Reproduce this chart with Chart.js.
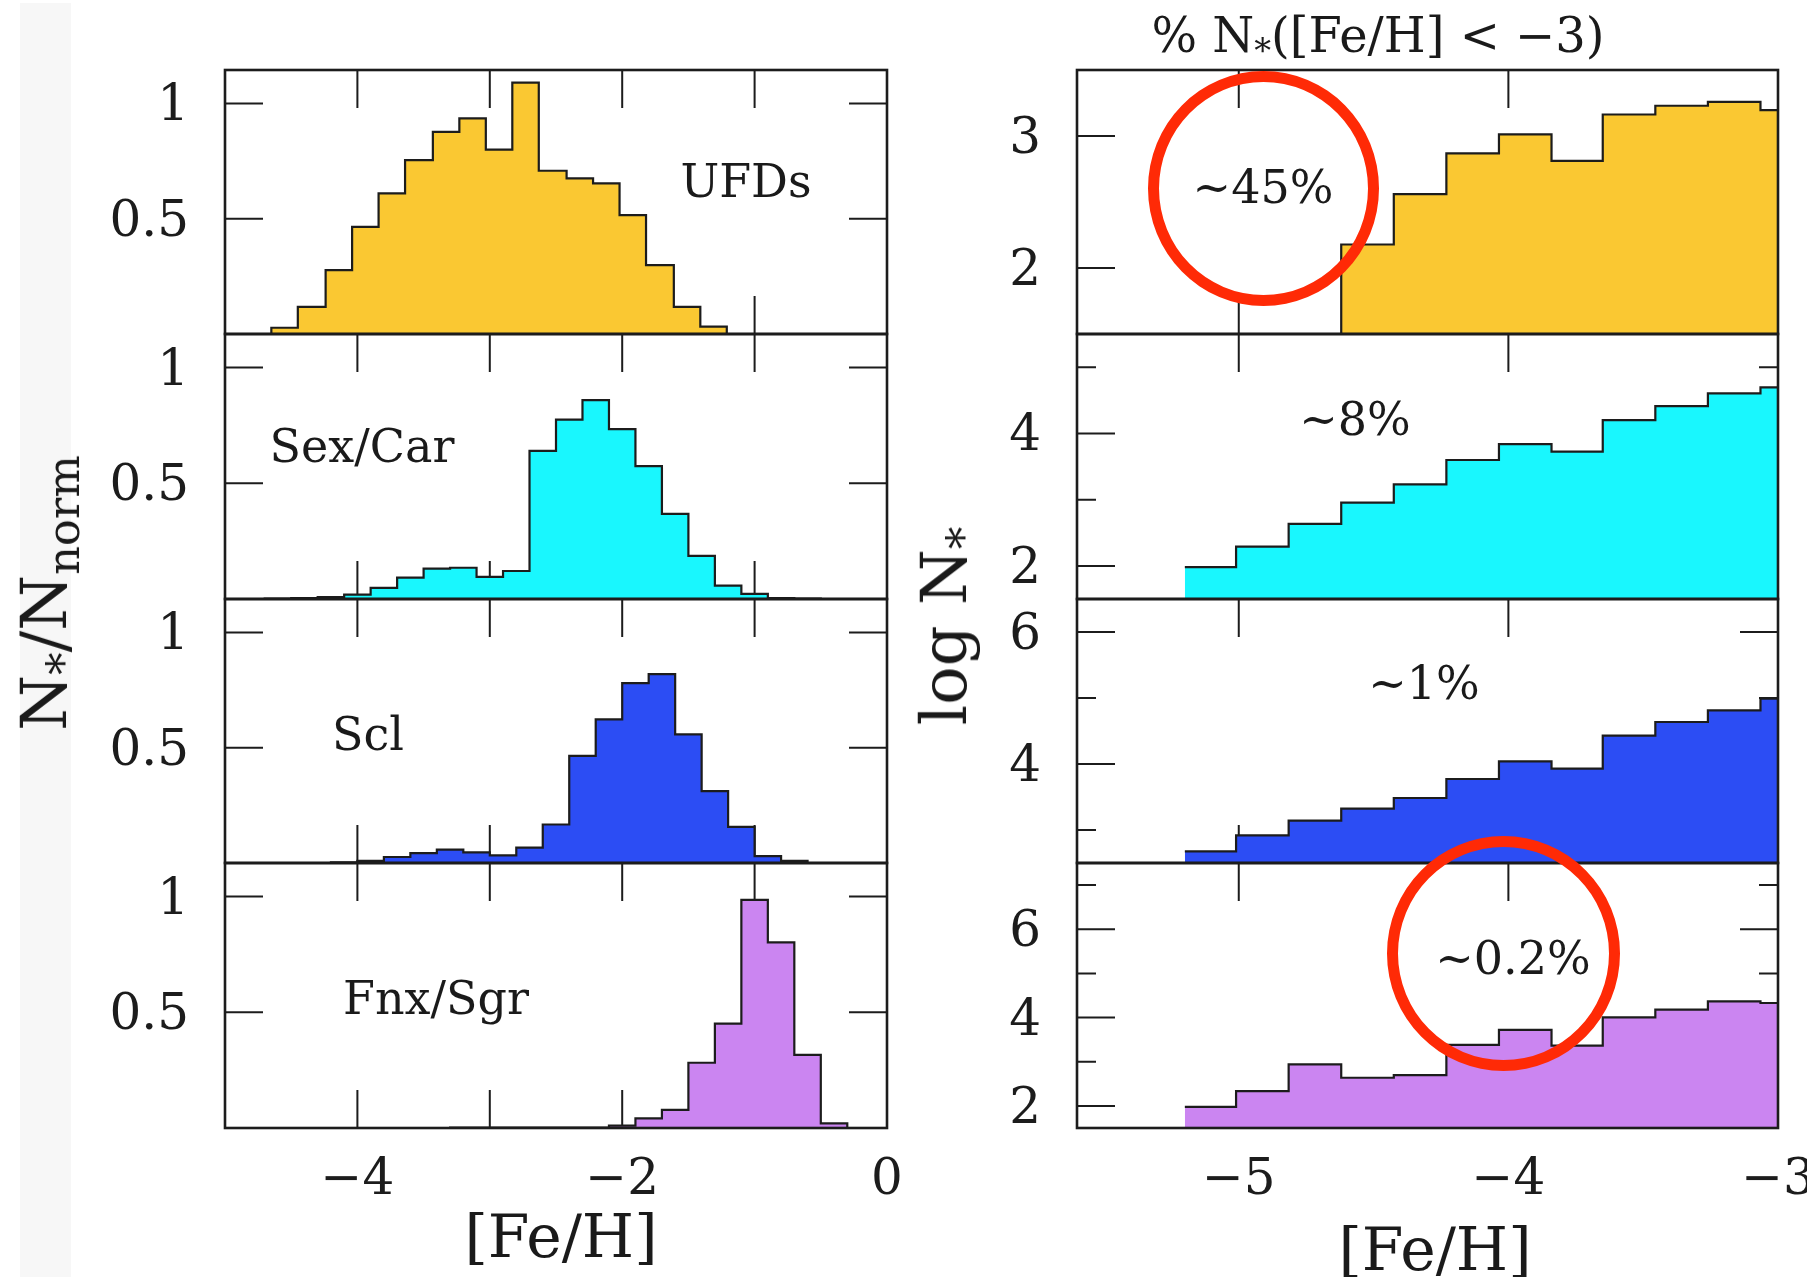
<!DOCTYPE html>
<html>
<head>
<meta charset="utf-8">
<title>MDF panels</title>
<script src="https://cdn.jsdelivr.net/npm/chart.js@4.4.1/dist/chart.umd.min.js"></script>
<style>
  body { margin: 0; background: #fff; }
  #page { position: relative; width: 1807px; height: 1277px; overflow: hidden;
          font-family: "DejaVu Serif", serif; color: #1a1a1a; background: #fff; }
  #page canvas { position: absolute; }
  .strip { position: absolute; left: 20px; top: 3px; width: 51px; height: 1274px; background: #f7f7f7; }
  .txt { position: absolute; white-space: nowrap; line-height: 1; transform: translate(-50%, -50%); }
  .rot { transform: translate(-50%, -50%) rotate(-90deg); }
  .sb { font-size: 0.7em; position: relative; top: 0.3em; }
  .ring { position: absolute; border: 11px solid #ff2a06; border-radius: 50%; box-sizing: border-box; }
</style>
</head>
<body>
<div id="page">
  <div class="strip"></div>
  <div id="charts"></div>

  <!-- panel names (left) -->
  <div class="txt" style="left:746px; top:181px; font-size:46px;">UFDs</div>
  <div class="txt" style="left:362px; top:446px; font-size:46px;">Sex/Car</div>
  <div class="txt" style="left:368px; top:734px; font-size:46px;">Scl</div>
  <div class="txt" style="left:436px; top:998px; font-size:46px;">Fnx/Sgr</div>

  <!-- fraction below [Fe/H] = -3 (right) -->
  <div class="txt" style="left:1263px; top:187px; font-size:46px;">~45%</div>
  <div class="txt" style="left:1355px; top:419px; font-size:46px;">~8%</div>
  <div class="txt" style="left:1424px; top:683px; font-size:46px;">~1%</div>
  <div class="txt" style="left:1513px; top:958px; font-size:46px;">~0.2%</div>

  <!-- axis titles -->
  <div class="txt" style="left:1378px; top:35px; font-size:48px;">% N<span class="sb">*</span>([Fe/H] &lt; &#8722;3)</div>
  <div class="txt" style="left:561px; top:1236px; font-size:60px;">[Fe/H]</div>
  <div class="txt" style="left:1435px; top:1249px; font-size:60px;">[Fe/H]</div>
  <div class="txt rot" style="left:44px; top:593px; font-size:64px;">N<span class="sb">*</span>/N<span class="sb">norm</span></div>
  <div class="txt rot" style="left:944px; top:626px; font-size:64px;">log N<span class="sb">*</span></div>

  <!-- hand drawn highlight rings -->
  <div class="ring" style="left:1148px; top:71px; width:231px; height:235px;"></div>
  <div class="ring" style="left:1387px; top:836px; width:233px; height:235px;"></div>
</div>

<script>
// ---------- left column: N*/Nnorm per [Fe/H] bin ----------
var ufdEdges = [-4.65, -4.45, -4.24, -4.04, -3.84, -3.64, -3.43, -3.23, -3.03, -2.83,
                -2.63, -2.42, -2.22, -2.02, -1.82, -1.61, -1.41, -1.21];
var ufdFrac = [0.027, 0.118, 0.277, 0.465, 0.610, 0.754, 0.877, 0.935, 0.800, 1.09,
               0.708, 0.675, 0.653, 0.516, 0.299, 0.118, 0.032];

var sexCarEdges = [-4.7, -4.5, -4.3, -4.1, -3.9, -3.7, -3.5, -3.3, -3.1, -2.9, -2.7,
                   -2.5, -2.3, -2.1, -1.9, -1.7, -1.5, -1.3, -1.1, -0.9, -0.7, -0.5];
var sexCarFrac = [0.002, 0.004, 0.008, 0.019, 0.048, 0.092, 0.131, 0.135, 0.096, 0.121,
                  0.640, 0.775, 0.859, 0.734, 0.574, 0.368, 0.186, 0.058, 0.022, 0.004, 0.002];

var sclEdges = [-4.2, -4.0, -3.8, -3.6, -3.4, -3.2, -3.0, -2.8, -2.6, -2.4,
                -2.2, -2.0, -1.8, -1.6, -1.4, -1.2, -1.0, -0.8, -0.6];
var sclFrac = [0.003, 0.009, 0.026, 0.043, 0.058, 0.046, 0.033, 0.067, 0.167,
               0.465, 0.623, 0.780, 0.819, 0.558, 0.312, 0.157, 0.030, 0.009];

var fnxEdges = [-3.3, -3.1, -2.9, -2.7, -2.5, -2.3, -2.1, -1.9, -1.7, -1.5,
                -1.3, -1.1, -0.9, -0.7, -0.5, -0.3];
var fnxFrac = [0.002, 0.002, 0.002, 0.002, 0.002, 0.002, 0.010, 0.042, 0.078,
               0.282, 0.451, 0.986, 0.802, 0.316, 0.020];

// ---------- right column: log N* of the metal-poor tail ----------
var tailEdges = [-5.2, -5.01, -4.815, -4.62, -4.425, -4.23, -4.035, -3.84,
                 -3.65, -3.455, -3.26, -3.065, -3.0];
var ufdLogN    = [0, 0, 0, 2.178, 2.560, 2.869, 3.013, 2.812, 3.163, 3.229, 3.259, 3.196];
var sexCarLogN = [1.980, 2.291, 2.633, 2.955, 3.231, 3.598, 3.839, 3.724, 4.201, 4.412, 4.603, 4.693];
var sclLogN    = [2.677, 2.919, 3.141, 3.323, 3.485, 3.773, 4.040, 3.929, 4.429, 4.636, 4.813, 4.990];
var fnxLogN    = [1.977, 2.334, 2.941, 2.638, 2.698, 3.381, 3.723, 3.366, 4.004, 4.178, 4.368, 4.330];

// ---------- ticks ----------
var leftXTicks = [-4, -3, -2, -1];
var leftXLabels = [-4, -2, 0];
var rightXTicks = [-5, -4];
var rightXLabels = [-5, -4, -3];
var leftYTicks = [0.5, 1];
var rightYRange = [[1.5, 3.5], [1.5, 5.5], [2.5, 6.5], [1.5, 7.5]];
var rightYLabels = [[2, 3], [2, 4], [4, 6], [2, 4, 6]];
var rightYMinor = [[], [3, 5], [3, 5], [3, 5, 7]];

var colors = ['#fac832', '#19f7fe', '#2c4df4', '#cb85f1'];

// layout of the panel grid (pixels)
var rows = [70, 334, 599, 863, 1128];
var leftCol = [225, 887];
var rightCol = [1077, 1778];
var PAD_L = 200, PAD_R = 40, PAD_T = 4, PAD_B = 110;
var INK = '#1c1c1c';
var tickFont = { family: 'DejaVu Serif', size: 50 };

function fmt(v) {
    return String(v).replace('-', '\u2212');
}

// outline of a histogram as a stepped line
function stepPoints(edges, vals, base, closeRight) {
    var pts = [];
    if (base !== null) pts.push({ x: edges[0], y: base });
    for (var i = 0; i < vals.length; i++) {
        pts.push({ x: edges[i], y: vals[i] });
    }
    pts.push({ x: edges[edges.length - 1], y: closeRight ? base : vals[vals.length - 1] });
    return pts;
}

// inward ticks on all four sides + frame
var frameTicks = {
    id: 'frameTicks',
    beforeDatasetsDraw: function (chart, args, o) {
        var a = chart.chartArea, sx = chart.scales.x, sy = chart.scales.y, ctx = chart.ctx;
        ctx.save();
        ctx.strokeStyle = INK;
        ctx.lineWidth = 2;
        ctx.beginPath();
        function vtick(v, len) {
            var px = sx.getPixelForValue(v);
            ctx.moveTo(px, a.bottom); ctx.lineTo(px, a.bottom - len);
            ctx.moveTo(px, a.top); ctx.lineTo(px, a.top + len);
        }
        function htick(v, len) {
            var py = sy.getPixelForValue(v);
            ctx.moveTo(a.left, py); ctx.lineTo(a.left + len, py);
            ctx.moveTo(a.right, py); ctx.lineTo(a.right - len, py);
        }
        o.xMajor.forEach(function (v) { vtick(v, 38); });
        o.yMajor.forEach(function (v) { htick(v, 38); });
        o.yMinor.forEach(function (v) { htick(v, 19); });
        ctx.stroke();
        ctx.restore();
    },
    afterDatasetsDraw: function (chart) {
        var a = chart.chartArea, ctx = chart.ctx;
        ctx.save();
        ctx.strokeStyle = INK;
        ctx.lineWidth = 2.6;
        ctx.strokeRect(a.left, a.top, a.right - a.left, a.bottom - a.top);
        ctx.restore();
    }
};

function addPanel(p) {
    var w = p.col[1] - p.col[0], h = p.y1 - p.y0;
    var cv = document.createElement('canvas');
    cv.width = w + PAD_L + PAD_R;
    cv.height = h + PAD_T + PAD_B;
    cv.style.left = (p.col[0] - PAD_L) + 'px';
    cv.style.top = (p.y0 - PAD_T) + 'px';
    document.getElementById('charts').appendChild(cv);

    new Chart(cv, {
        type: 'line',
        data: {
            datasets: [{
                data: p.points,
                stepped: true,
                fill: p.fill,
                backgroundColor: p.color,
                borderColor: INK,
                borderWidth: 2.2,
                pointRadius: 0,
                tension: 0
            }]
        },
        options: {
            responsive: false,
            animation: false,
            events: [],
            layout: { padding: { top: PAD_T, right: PAD_R, left: 0, bottom: 0 } },
            plugins: {
                legend: { display: false },
                tooltip: { enabled: false },
                frameTicks: { xMajor: p.xTicks, yMajor: p.yMajor, yMinor: p.yMinor }
            },
            scales: {
                x: {
                    type: 'linear', position: 'bottom', min: p.xRange[0], max: p.xRange[1],
                    grid: { display: false, drawTicks: false },
                    border: { display: false },
                    ticks: { display: p.showX, padding: 23, font: tickFont, color: INK,
                             maxRotation: 0, autoSkip: false, callback: fmt },
                    afterBuildTicks: function (s) {
                        s.ticks = p.xLabels.map(function (v) { return { value: v }; });
                    },
                    afterFit: function (s) {
                        s.height = PAD_B;
                        s.paddingLeft = 0; s.paddingRight = 0;
                    }
                },
                y: {
                    type: 'linear', min: p.yRange[0], max: p.yRange[1],
                    grid: { display: false, drawTicks: false },
                    border: { display: false },
                    ticks: { padding: 36, labelOffset: 4, font: tickFont, color: INK, callback: fmt },
                    afterBuildTicks: function (s) {
                        s.ticks = p.yLabels.map(function (v) { return { value: v }; });
                    },
                    afterFit: function (s) {
                        s.width = PAD_L;
                        s.paddingTop = 0; s.paddingBottom = 0;
                    }
                }
            }
        },
        plugins: [frameTicks]
    });
}

var leftSets = [[ufdEdges, ufdFrac], [sexCarEdges, sexCarFrac], [sclEdges, sclFrac], [fnxEdges, fnxFrac]];
var rightSets = [ufdLogN, sexCarLogN, sclLogN, fnxLogN];

for (var i = 0; i < 4; i++) {
    addPanel({
        col: leftCol, y0: rows[i], y1: rows[i + 1],
        points: stepPoints(leftSets[i][0], leftSets[i][1], 0, true),
        fill: 'origin', color: colors[i],
        xRange: [-5, 0], yRange: [0, 1.145],
        xTicks: leftXTicks, xLabels: leftXLabels, showX: i === 3,
        yMajor: leftYTicks, yMinor: [], yLabels: leftYTicks
    });
    addPanel({
        col: rightCol, y0: rows[i], y1: rows[i + 1],
        points: stepPoints(tailEdges, rightSets[i], null, false),
        fill: 'start', color: colors[i],
        xRange: [-5.6, -3], yRange: rightYRange[i],
        xTicks: rightXTicks, xLabels: rightXLabels, showX: i === 3,
        yMajor: rightYLabels[i], yMinor: rightYMinor[i], yLabels: rightYLabels[i]
    });
}
</script>
</body>
</html>
